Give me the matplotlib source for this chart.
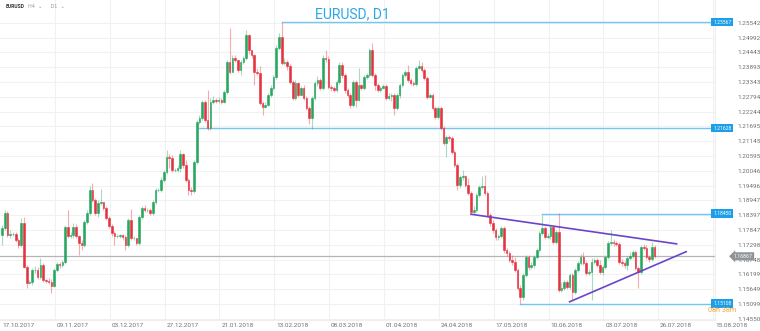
import numpy as np
import matplotlib
matplotlib.use("Agg")
import matplotlib.pyplot as plt
import matplotlib.transforms as mtransforms

plt.rcParams['font.family'] = ['Roboto', 'DejaVu Sans']

# --- data: EURUSD daily candles (Sun-Fri bars), 17.10.2017 .. 24.07.2018 ---
first_open = 1.1766
closes = [
    1.1792, 1.1848, 1.1766, 1.1770, 1.1770, 1.1747, 1.1729, 1.1811, 1.1647, 1.1588,
    1.1592, 1.1636, 1.1636, 1.1610, 1.1655, 1.1599, 1.1595, 1.1592, 1.1577, 1.1636,
    1.1658, 1.1655, 1.1666, 1.1796, 1.1762, 1.1766, 1.1796, 1.1762, 1.1736, 1.1729,
    1.1814, 1.1848, 1.1933, 1.1896, 1.1848, 1.1885, 1.1889, 1.1866, 1.1829, 1.1800,
    1.1774, 1.1762, 1.1762, 1.1766, 1.1759, 1.1729, 1.1822, 1.1755, 1.1755, 1.1736,
    1.1833, 1.1866, 1.1859, 1.1859, 1.1848, 1.1889, 1.1933, 1.1933, 1.1970, 1.2000,
    1.2056, 1.2052, 1.2007, 1.2007, 1.2015, 1.2067, 1.2026, 1.1970, 1.1933, 1.1929,
    1.2037, 1.2186, 1.2200, 1.2260, 1.2193, 1.2163, 1.2260, 1.2267, 1.2264, 1.2267,
    1.2260, 1.2297, 1.2408, 1.2371, 1.2423, 1.2416, 1.2379, 1.2408, 1.2423, 1.2509,
    1.2453, 1.2434, 1.2371, 1.2367, 1.2256, 1.2241, 1.2249, 1.2286, 1.2312, 1.2353,
    1.2460, 1.2501, 1.2405, 1.2408, 1.2393, 1.2334, 1.2275, 1.2330, 1.2286, 1.2312,
    1.2275, 1.2238, 1.2200, 1.2275, 1.2330, 1.2342, 1.2312, 1.2423, 1.2419, 1.2316,
    1.2312, 1.2304, 1.2334, 1.2397, 1.2360, 1.2304, 1.2286, 1.2249, 1.2334, 1.2267,
    1.2323, 1.2312, 1.2353, 1.2360, 1.2453, 1.2360, 1.2323, 1.2304, 1.2312, 1.2319,
    1.2275, 1.2282, 1.2286, 1.2238, 1.2286, 1.2323, 1.2360, 1.2371, 1.2342, 1.2330,
    1.2327, 1.2386, 1.2393, 1.2379, 1.2349, 1.2278, 1.2286, 1.2238, 1.2204, 1.2238,
    1.2163, 1.2108, 1.2130, 1.2126, 1.2074, 1.2026, 1.1952, 1.1981, 1.1985, 1.1952,
    1.1922, 1.1851, 1.1859, 1.1915, 1.1944, 1.1948, 1.1922, 1.1840, 1.1811, 1.1785,
    1.1759, 1.1762, 1.1792, 1.1710, 1.1699, 1.1673, 1.1666, 1.1636, 1.1569, 1.1536,
    1.1618, 1.1684, 1.1647, 1.1655, 1.1684, 1.1710, 1.1774, 1.1792, 1.1759, 1.1762,
    1.1796, 1.1740, 1.1777, 1.1562, 1.1569, 1.1592, 1.1573, 1.1618, 1.1555, 1.1636,
    1.1662, 1.1684, 1.1662, 1.1625, 1.1629, 1.1666, 1.1673, 1.1655, 1.1629, 1.1647,
    1.1684, 1.1736, 1.1740, 1.1736, 1.1733, 1.1666, 1.1662, 1.1655, 1.1681, 1.1688,
    1.1703, 1.1644, 1.1629, 1.1722, 1.1718, 1.1684, 1.1677, 1.1722, 1.1687,
]
highs = [
    1.1803, 1.1859, 1.1855, 1.1785, 1.1777, 1.1777, 1.1755, 1.1829, 1.1833, 1.1655,
    1.1599, 1.1644, 1.1651, 1.1647, 1.1681, 1.1662, 1.1603, 1.1606, 1.1603, 1.1644,
    1.1666, 1.1666, 1.1673, 1.1803, 1.1859, 1.1777, 1.1811, 1.1807, 1.1766, 1.1747,
    1.1822, 1.1859, 1.1948, 1.1959, 1.1903, 1.1896, 1.1937, 1.1889, 1.1874, 1.1837,
    1.1807, 1.1781, 1.1770, 1.1770, 1.1770, 1.1766, 1.1829, 1.1863, 1.1762, 1.1755,
    1.1840, 1.1874, 1.1877, 1.1866, 1.1866, 1.1896, 1.1940, 1.1940, 1.1981, 1.2007,
    1.2082, 1.2067, 1.2063, 1.2015, 1.2026, 1.2082, 1.2070, 1.2044, 1.1978, 1.1944,
    1.2044, 1.2193, 1.2212, 1.2267, 1.2267, 1.2304, 1.2275, 1.2282, 1.2275, 1.2278,
    1.2275, 1.2304, 1.2416, 1.2535, 1.2434, 1.2434, 1.2416, 1.2416, 1.2431, 1.2527,
    1.2512, 1.2453, 1.2438, 1.2386, 1.2393, 1.2264, 1.2260, 1.2293, 1.2323, 1.2360,
    1.2471, 1.2516, 1.2557, 1.2423, 1.2416, 1.2401, 1.2342, 1.2342, 1.2334, 1.2319,
    1.2323, 1.2282, 1.2245, 1.2282, 1.2338, 1.2356, 1.2349, 1.2434, 1.2453, 1.2431,
    1.2323, 1.2319, 1.2342, 1.2408, 1.2408, 1.2367, 1.2312, 1.2293, 1.2342, 1.2342,
    1.2386, 1.2327, 1.2360, 1.2367, 1.2460, 1.2479, 1.2367, 1.2330, 1.2319, 1.2327,
    1.2327, 1.2293, 1.2293, 1.2293, 1.2293, 1.2330, 1.2367, 1.2379, 1.2397, 1.2349,
    1.2338, 1.2393, 1.2416, 1.2408, 1.2386, 1.2356, 1.2293, 1.2293, 1.2245, 1.2245,
    1.2245, 1.2171, 1.2137, 1.2137, 1.2134, 1.2082, 1.2033, 1.1989, 1.2007, 1.1989,
    1.1978, 1.1929, 1.1874, 1.1922, 1.1952, 1.1985, 1.1989, 1.1929, 1.1848, 1.1822,
    1.1792, 1.1770, 1.1800, 1.1800, 1.1718, 1.1707, 1.1692, 1.1684, 1.1644, 1.1580,
    1.1625, 1.1692, 1.1692, 1.1666, 1.1692, 1.1718, 1.1781, 1.1840, 1.1800, 1.1774,
    1.1803, 1.1800, 1.1785, 1.1848, 1.1592, 1.1599, 1.1599, 1.1625, 1.1625, 1.1644,
    1.1670, 1.1696, 1.1703, 1.1670, 1.1640, 1.1681, 1.1681, 1.1681, 1.1673, 1.1655,
    1.1692, 1.1744, 1.1785, 1.1751, 1.1744, 1.1740, 1.1677, 1.1670, 1.1688, 1.1703,
    1.1710, 1.1710, 1.1651, 1.1729, 1.1733, 1.1729, 1.1692, 1.1740, 1.1729,
]
lows = [
    1.1729, 1.1785, 1.1759, 1.1755, 1.1762, 1.1740, 1.1718, 1.1722, 1.1644, 1.1569,
    1.1584, 1.1580, 1.1625, 1.1603, 1.1603, 1.1592, 1.1588, 1.1584, 1.1551, 1.1573,
    1.1629, 1.1644, 1.1647, 1.1658, 1.1755, 1.1755, 1.1755, 1.1755, 1.1692, 1.1710,
    1.1722, 1.1807, 1.1840, 1.1889, 1.1840, 1.1833, 1.1877, 1.1859, 1.1822, 1.1792,
    1.1762, 1.1729, 1.1755, 1.1755, 1.1747, 1.1710, 1.1722, 1.1747, 1.1747, 1.1729,
    1.1729, 1.1825, 1.1851, 1.1851, 1.1840, 1.1840, 1.1881, 1.1926, 1.1926, 1.1963,
    1.1992, 1.2015, 1.2000, 1.2000, 1.2000, 1.2000, 1.2015, 1.1963, 1.1915, 1.1915,
    1.1922, 1.2030, 1.2178, 1.2193, 1.2186, 1.2156, 1.2156, 1.2252, 1.2256, 1.2256,
    1.2252, 1.2256, 1.2290, 1.2364, 1.2371, 1.2408, 1.2371, 1.2360, 1.2401, 1.2416,
    1.2438, 1.2423, 1.2323, 1.2360, 1.2249, 1.2212, 1.2238, 1.2245, 1.2278, 1.2304,
    1.2345, 1.2453, 1.2397, 1.2397, 1.2379, 1.2327, 1.2267, 1.2267, 1.2278, 1.2286,
    1.2267, 1.2230, 1.2178, 1.2160, 1.2267, 1.2319, 1.2304, 1.2304, 1.2408, 1.2308,
    1.2301, 1.2297, 1.2297, 1.2327, 1.2349, 1.2293, 1.2278, 1.2238, 1.2241, 1.2241,
    1.2264, 1.2304, 1.2304, 1.2345, 1.2353, 1.2353, 1.2304, 1.2297, 1.2297, 1.2308,
    1.2267, 1.2267, 1.2264, 1.2212, 1.2230, 1.2275, 1.2316, 1.2353, 1.2334, 1.2323,
    1.2319, 1.2319, 1.2382, 1.2371, 1.2342, 1.2271, 1.2275, 1.2230, 1.2197, 1.2197,
    1.2156, 1.2100, 1.2056, 1.2115, 1.2067, 1.2018, 1.1933, 1.1940, 1.1970, 1.1944,
    1.1915, 1.1844, 1.1844, 1.1851, 1.1907, 1.1937, 1.1915, 1.1833, 1.1800, 1.1774,
    1.1747, 1.1747, 1.1755, 1.1699, 1.1688, 1.1666, 1.1655, 1.1629, 1.1562, 1.1510,
    1.1525, 1.1610, 1.1636, 1.1640, 1.1644, 1.1677, 1.1703, 1.1766, 1.1751, 1.1751,
    1.1751, 1.1733, 1.1733, 1.1555, 1.1555, 1.1562, 1.1566, 1.1566, 1.1525, 1.1547,
    1.1629, 1.1655, 1.1655, 1.1618, 1.1618, 1.1525, 1.1658, 1.1647, 1.1621, 1.1618,
    1.1640, 1.1677, 1.1729, 1.1725, 1.1725, 1.1658, 1.1651, 1.1644, 1.1636, 1.1673,
    1.1681, 1.1636, 1.1569, 1.1621, 1.1710, 1.1677, 1.1666, 1.1670, 1.1681,
]

date_labels = ['17.10.2017', '09.11.2017', '03.12.2017', '27.12.2017', '21.01.2018',
               '13.02.2018', '08.03.2018', '01.04.2018', '24.04.2018', '17.05.2018',
               '10.06.2018', '03.07.2018', '26.07.2018', '15.08.2018']
bars_per_label = 20

price_ticks = [1.25542, 1.24992, 1.24443, 1.23893, 1.23343, 1.22794, 1.22244,
               1.21695, 1.21145, 1.20595, 1.20046, 1.19496, 1.18947, 1.18397,
               1.17847, 1.17298, 1.16748, 1.16199, 1.15649, 1.15099, 1.14550]

# horizontal levels drawn on the chart: (price, first bar)
levels = [1.25567, 1.21628, 1.18450, 1.15108]
level_start = [102, 72, 197, 189]

# triangle trend lines (bar, price)
trend_upper = ([171, 246], [1.1843, 1.1733])
trend_lower = ([207, 249.5], [1.1518, 1.1704])

current_price = 1.16867
timer_text = '08h 38m'

# --- drawing ---
GREEN = '#26a65f'
RED = '#e5323f'
BLUE_LINE = '#74c6f2'
BLUE_BOX = '#1c9ee8'
GRID = '#f1f1f1'
TXT = '#707070'

closes = np.array(closes)
highs = np.array(highs)
lows = np.array(lows)
opens = np.r_[first_open, closes[:-1]]
x = np.arange(len(closes))

fig = plt.figure(figsize=(7.6, 3.31), dpi=100)
ax = fig.add_axes([0, 11 / 331, 715 / 760, 320 / 331])
ax.set_xlim(-0.73, 259.7)
ax.set_ylim(1.14503, 1.26385)

up = closes >= opens
col = np.where(up, GREEN, RED)

# wicks
for i in range(len(x)):
    ax.plot([x[i], x[i]], [lows[i], highs[i]], color=col[i], lw=0.8, alpha=0.4,
            solid_capstyle='butt', zorder=3)
# bodies
ax.bar(x, np.abs(closes - opens), bottom=np.minimum(opens, closes), width=0.6,
       color=col, edgecolor=col, linewidth=0.4, zorder=4)

# grid
tick_pos = [i * bars_per_label for i in range(len(date_labels))]
for p in price_ticks:
    ax.axhline(p, color=GRID, lw=0.8, zorder=0)
for t in tick_pos[1:]:
    ax.axvline(t - 0.7, color=GRID, lw=0.8, zorder=0)

# level lines + price boxes
box_tr = mtransforms.blended_transform_factory(ax.transAxes, ax.transData)
for lv, st in zip(levels, level_start):
    ax.plot([st, ax.get_xlim()[1]], [lv, lv], color=BLUE_LINE, lw=1.0, zorder=2)
    ax.text(0.9975, lv, '%.5f' % lv, transform=box_tr, ha='left', va='center',
            fontsize=3.6, color='white', clip_on=False, zorder=6,
            bbox=dict(boxstyle='square,pad=0.35', fc=BLUE_BOX, ec='none'))

# current price line
ax.axhline(current_price, color='#b5b5b5', lw=0.9, zorder=2)
ax.text(1.026, current_price, '%.5f' % current_price, transform=box_tr, ha='left',
        va='center', fontsize=3.8, color='white', clip_on=False, zorder=7,
        bbox=dict(boxstyle='larrow,pad=0.3', fc='#8e9499', ec='none'))

# countdown under the lowest level box
ax.text(0.99, levels[-1] - 0.0027, timer_text, transform=box_tr, ha='left', va='center',
        fontsize=5.2, color='#f5a530', clip_on=False, zorder=6)

# triangle
ax.plot(*trend_upper, color='#6b45c9', lw=1.2, zorder=5)
ax.plot(*trend_lower, color='#6b45c9', lw=1.2, zorder=5)

# axes styling
for s in ['top', 'left']:
    ax.spines[s].set_visible(False)
ax.spines['right'].set_color('#eeeeee')
ax.spines['bottom'].set_color('#eeeeee')
ax.spines['right'].set_linewidth(0.8)
ax.spines['bottom'].set_linewidth(0.8)

ax.yaxis.tick_right()
ax.set_yticks(price_ticks)
ax.set_yticklabels(['%.5f' % p for p in price_ticks])
ax.tick_params(axis='y', length=0, pad=16, labelsize=4.6, labelcolor=TXT)

ax.set_xticks(tick_pos)
ax.set_xticklabels(date_labels, ha='left')
ax.tick_params(axis='x', length=0, pad=2.5, labelsize=4.6, labelcolor=TXT)

# titles
fig.text(352 / 760, 1 - 14 / 331, 'EURUSD, D1', ha='center', va='center',
         fontsize=10, color='#2aa8e6')
fig.text(6 / 760, 1 - 7 / 331, 'EURUSD', ha='left', va='center', fontsize=3.6,
         color='#333333', fontweight='bold')
fig.text(28 / 760, 1 - 7 / 331, 'H4  \u2304     D1  \u2304', ha='left', va='center',
         fontsize=3.6, color='#999999', family=['DejaVu Sans'])

fig.savefig('out.png', dpi=100)
